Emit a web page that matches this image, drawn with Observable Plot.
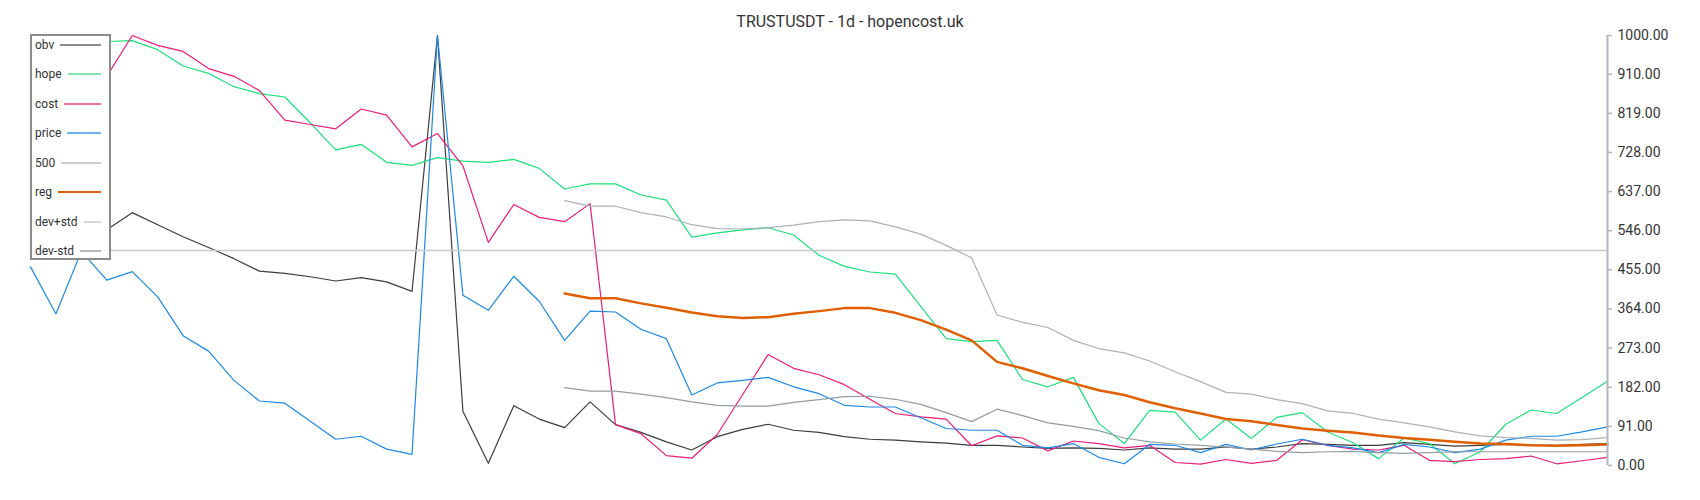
<!DOCTYPE html>
<html>
<head>
<meta charset="utf-8">
<script src="https://cdn.jsdelivr.net/npm/d3@7"></script>
<script src="https://cdn.jsdelivr.net/npm/@observablehq/plot@0.6"></script>
<style>
  html, body { margin: 0; padding: 0; background: #fff; }
  #wrap { position: relative; width: 1700px; height: 500px; font-family: Roboto, sans-serif; }
  #title { height: 30px; box-sizing: border-box; padding: 12px 0 0 0; line-height: 20px;
           text-align: center; font-size: 16px; color: #333; }
  #legend { position: absolute; left: 30px; top: 34px; width: 81px; height: 226px; box-sizing: border-box;
            border: 2px solid #8c8c8c; background: #fff; z-index: 2; }
  .row { position: absolute; left: 0; right: 0; height: 18px; display: flex; align-items: center;
         font-size: 12px; color: #333; padding-left: 3px; }
  .row .sw { flex: 1; height: 2px; margin-left: 6px; margin-right: 8px; }
</style>
</head>
<body>
<div id="wrap">
  <div id="title"></div>
  <div id="chart"></div>
  <div id="legend"></div>
</div>
<script>
// ---- data ----
const chartTitle = "TRUSTUSDT - 1d - hopencost.uk";
const seriesNames = ["obv", "hope", "cost", "price", "500", "reg", "dev+std", "dev-std"];

const obv = [560, 585, 570, 548, 588, 560, 532, 507, 481, 452, 447,
  439, 429, 437, 427, 405, 1000, 126, 5, 139, 108,
  88, 148, 95, 77, 55, 36, 67, 84, 96, 82, 77,
  67, 61, 59, 55, 52, 47, 47, 43, 40, 41,
  40, 36, 41, 38, 38, 43, 38, 43, 51, 49,
  47, 47, 53, 49, 45, 47, 49, 47, 47, 49, 51];

const hope = [975, 990, 1000, 986, 988, 967, 929, 912, 881, 865, 857,
  797, 734, 747, 705, 698, 716, 708, 705, 712, 691,
  643, 655, 655, 629, 617, 531, 541, 548, 553, 536, 489,
  463, 450, 445, 370, 295, 288, 291, 200, 183, 205,
  98, 51, 128, 124, 59, 108, 63, 112, 123, 78,
  53, 16, 64, 51, 4, 32, 96, 129, 121, 158, 196];

const cost = [860, 900, 880, 905, 1000, 977, 963, 923, 905, 872, 803,
  793, 783, 829, 815, 741, 772, 697, 519, 607, 577,
  567, 609, 95, 74, 23, 17, 72, 165, 258, 226, 211,
  188, 154, 121, 113, 108, 46, 69, 64, 34, 57,
  51, 41, 47, 7, 3, 14, 5, 12, 60, 47,
  38, 36, 47, 12, 9, 14, 16, 22, 4, 11, 19];

const price = [462, 353, 498, 431, 451, 392, 302, 266, 198, 150, 145,
  103, 61, 68, 38, 26, 1000, 396, 361, 440, 382,
  291, 359, 357, 317, 295, 164, 192, 198, 205, 183, 167,
  140, 136, 136, 111, 86, 82, 82, 47, 41, 51,
  19, 4, 49, 47, 30, 49, 36, 50, 61, 47,
  41, 30, 49, 43, 30, 38, 59, 68, 68, 78, 90];

const level = 500;

// regression band starts at day index 21
const bandStart = 21;
const reg = [400, 389, 389, 377, 367, 356, 347, 343, 345, 353, 359,
  366, 366, 355, 338, 316, 291, 241, 226, 208, 191,
  175, 164, 147, 133, 121, 108, 103, 94, 86, 81,
  77, 70, 64, 60, 55, 51, 50, 47, 46, 47, 49];
const devPlus = [616, 603, 603, 588, 578, 560, 551, 550, 553, 559, 567,
  571, 569, 555, 538, 512, 483, 350, 333, 321, 291,
  272, 262, 243, 218, 195, 170, 166, 153, 144, 127,
  121, 108, 99, 90, 78, 69, 65, 63, 59, 60, 65];
const devMinus = [181, 173, 173, 166, 158, 148, 140, 138, 138, 147, 153,
  160, 161, 154, 142, 123, 102, 131, 116, 99, 91,
  81, 64, 55, 50, 47, 43, 38, 33, 30, 32,
  33, 30, 28, 30, 32, 32, 32, 32, 32, 32, 32];

const yTicks = [0, 91, 182, 273, 364, 455, 546, 637, 728, 819, 910, 1000];

// ---- styles ----
const lineColor = {
  "obv": "#3d3d3d", "hope": "#1ee07a", "cost": "#e91e7a", "price": "#1e88e5",
  "500": "#c8c8c8", "reg": "#e06000", "dev+std": "#a9b1b9", "dev-std": "#939ca5"
};
const swatchColor = {
  "obv": "#8c8c8c", "hope": "#7fe8aa", "cost": "#f06eaa", "price": "#6cb2ee",
  "500": "#cccccc", "reg": "#d95f0e", "dev+std": "#d3d7db", "dev-std": "#b2b9c0"
};

const full = arr => arr.map((v, i) => ({x: i, y: v}));
const band = arr => arr.map((v, i) => ({x: bandStart + i, y: v}));
const lastDay = obv.length - 1;

document.getElementById("title").textContent = chartTitle;

const chart = Plot.plot({
  width: 1700,
  height: 470,
  marginLeft: 30,
  marginRight: 93,
  marginTop: 5,
  marginBottom: 35,
  style: {fontFamily: "Roboto, sans-serif", fontSize: "14px", background: "white", overflow: "visible"},
  x: {domain: [0, lastDay], axis: null},
  y: {domain: [0, 1000], label: null},
  marks: [
    Plot.line(full(obv), {x: "x", y: "y", stroke: lineColor["obv"], strokeWidth: 1.2}),
    Plot.line(full(hope), {x: "x", y: "y", stroke: lineColor["hope"], strokeWidth: 1.2}),
    Plot.line(full(cost), {x: "x", y: "y", stroke: lineColor["cost"], strokeWidth: 1.2}),
    Plot.line(full(price), {x: "x", y: "y", stroke: lineColor["price"], strokeWidth: 1.2}),
    Plot.ruleY([level], {stroke: lineColor["500"], strokeWidth: 1.6}),
    Plot.line(band(reg), {x: "x", y: "y", stroke: lineColor["reg"], strokeWidth: 2.5}),
    Plot.line(band(devPlus), {x: "x", y: "y", stroke: lineColor["dev+std"], strokeWidth: 1.2}),
    Plot.line(band(devMinus), {x: "x", y: "y", stroke: lineColor["dev-std"], strokeWidth: 1.2}),
    Plot.ruleX([lastDay], {stroke: "#b2b5be", strokeWidth: 2}),
    Plot.axisY({
      anchor: "right", ticks: yTicks, tickSize: 4, tickPadding: 6, label: null,
      tickFormat: d => d.toFixed(2), stroke: "#b2b5be", strokeWidth: 1.5,
      fill: "#333", fontSize: 14
    })
  ]
});
document.getElementById("chart").appendChild(chart);

// legend
const legend = d3.select("#legend");
seriesNames.forEach((name, i) => {
  const row = legend.append("div").attr("class", "row").style("top", (i * 29.43) + "px");
  row.append("span").text(name);
  row.append("span").attr("class", "sw").style("background", swatchColor[name]);
});
</script>
</body>
</html>
